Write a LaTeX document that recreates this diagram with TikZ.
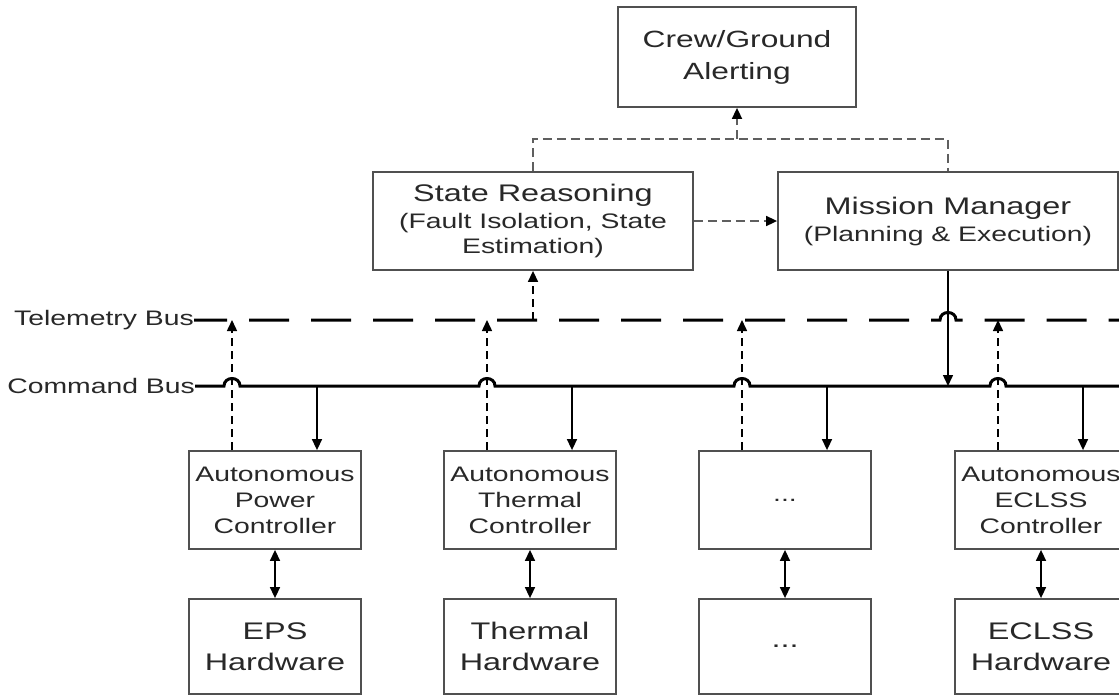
\documentclass[tikz,border=0pt]{standalone}
\usepackage{fontspec}
\setmainfont[FakeStretch=1.35]{Liberation Sans}
\usetikzlibrary{arrows.meta}
\definecolor{boxgray}{RGB}{80,80,80}
\definecolor{txtgray}{RGB}{40,40,40}
\definecolor{dshgray}{RGB}{95,95,95}

\begin{document}
\begin{tikzpicture}[x = 1pt, y = -1pt,
        box/.style = {draw = boxgray, line width = 1.8pt, text = txtgray, align = center, inner sep = 0pt},
        unit/.style = {box, minimum width = 172pt, minimum height = 98pt, font = \fontsize{21}{26}\selectfont},
        hw/.style = {box, minimum width = 172pt, minimum height = 95pt, font = \fontsize{24}{31}\selectfont},
        buslabel/.style = {anchor = east, inner sep = 0pt, text = txtgray, font = \fontsize{21}{25}\selectfont},
        tip/.style = {-{Triangle[length = 11pt, width = 10pt, color = black]}},
        sig/.style = {tip, line width = 1.5pt, dash pattern = on 8pt off 5pt},
        cmd/.style = {tip, line width = 1.5pt},
        dbl/.style = {{Triangle[length = 11pt, width = 10pt]}-{Triangle[length = 11pt, width = 10pt]}, line width = 1.5pt},
        top/.style = {draw = dshgray, line width = 1.7pt, dash pattern = on 9pt off 5pt},
        tbus/.style = {line width = 3pt, dash pattern = on 40pt off 22pt, dash phase = 7pt},
        cbus/.style = {line width = 3pt}]
                \clip (0,0) rectangle (1119,696);

                \node [box, minimum width = 238pt, minimum height = 100pt, font = \fontsize{23.5}{32}\selectfont]
                    (crew) at (737,57) {Crew/Ground\\Alerting};
                \node [box, minimum width = 320pt, minimum height = 98pt, font = \fontsize{21}{25}\selectfont]
                    (sr) at (533,221) {{\fontsize{24}{27}\selectfont State Reasoning}\\[2pt](Fault Isolation, State\\Estimation)};
                \node [box, minimum width = 340pt, minimum height = 98pt, font = \fontsize{21}{25}\selectfont]
                    (mm) at (948,221) {{\fontsize{24}{27}\selectfont Mission Manager}\\[2pt](Planning \& Execution)};

                \node [unit] (pwr) at (275,500) {Autonomous\\Power\\Controller};
                \node [unit] (thm) at (530,500) {Autonomous\\Thermal\\Controller};
                \node [unit] (etc) at (785,500) {...};
                \node [unit] (ecl) at (1041,500) {Autonomous\\ECLSS\\Controller};

                \node [hw] (pwrhw) at (275,646.5) {EPS\\Hardware};
                \node [hw] (thmhw) at (530,646.5) {Thermal\\Hardware};
                \node [hw] (etchw) at (785,646.5) {...};
                \node [hw] (eclhw) at (1041,646.5) {ECLSS\\Hardware};

                \coordinate (tb) at (194,320);
                \coordinate (cb) at (195,386);
                \coordinate (tend) at (1125,320);
                \coordinate (cend) at (1125,386);
                \node [buslabel] (tlbl) at (tb) {Telemetry Bus};
                \node [buslabel] (clbl) at (cb) {Command Bus};

                \coordinate (pwrup) at ([xshift = -43pt]pwr.north);
                \coordinate (thmup) at ([xshift = -43pt]thm.north);
                \coordinate (etcup) at ([xshift = -43pt]etc.north);
                \coordinate (eclup) at ([xshift = -43pt]ecl.north);
                \coordinate (pwrdn) at ([xshift = 42pt]pwr.north);
                \coordinate (thmdn) at ([xshift = 42pt]thm.north);
                \coordinate (etcdn) at ([xshift = 42pt]etc.north);
                \coordinate (ecldn) at ([xshift = 42pt]ecl.north);
                \coordinate (alert) at (crew.south |- 0,139);
                \coordinate (tx) at (mm.south |- tb);
                \coordinate (c1) at (pwrup |- cb);
                \coordinate (c2) at (thmup |- cb);
                \coordinate (c3) at (etcup |- cb);
                \coordinate (c4) at (eclup |- cb);

                \draw [top] (sr.north) -- (sr.north |- alert) -| (mm.north);
                \draw [top, tip] (alert) -- (crew.south);
                \draw [top, tip] (sr.east) -- (mm.west);

                \draw [tbus] (tlbl.east) -- ([xshift = -8pt]tx) .. controls +(0,-10) and +(0,-10) .. ([xshift = 8pt]tx) -- (tend);
                \draw [cbus] (clbl.east) -- ([xshift = -8pt]c1) .. controls +(0,-10) and +(0,-10) .. ([xshift = 8pt]c1)
                    -- ([xshift = -8pt]c2) .. controls +(0,-10) and +(0,-10) .. ([xshift = 8pt]c2)
                    -- ([xshift = -8pt]c3) .. controls +(0,-10) and +(0,-10) .. ([xshift = 8pt]c3)
                    -- ([xshift = -8pt]c4) .. controls +(0,-10) and +(0,-10) .. ([xshift = 8pt]c4) -- (cend);

                \draw [sig] (sr.south |- tb) -- (sr.south);
                \draw [cmd] (mm.south) -- (mm.south |- cb);

                \draw [sig] (pwrup) -- (pwrup |- tb);
                \draw [sig] (thmup) -- (thmup |- tb);
                \draw [sig] (etcup) -- (etcup |- tb);
                \draw [sig] (eclup) -- (eclup |- tb);
                \draw [cmd] (pwrdn |- cb) -- (pwrdn);
                \draw [cmd] (thmdn |- cb) -- (thmdn);
                \draw [cmd] (etcdn |- cb) -- (etcdn);
                \draw [cmd] (ecldn |- cb) -- (ecldn);

                \draw [dbl] (pwr.south) -- (pwrhw.north);
                \draw [dbl] (thm.south) -- (thmhw.north);
                \draw [dbl] (etc.south) -- (etchw.north);
                \draw [dbl] (ecl.south) -- (eclhw.north);
\end{tikzpicture}
\end{document}
